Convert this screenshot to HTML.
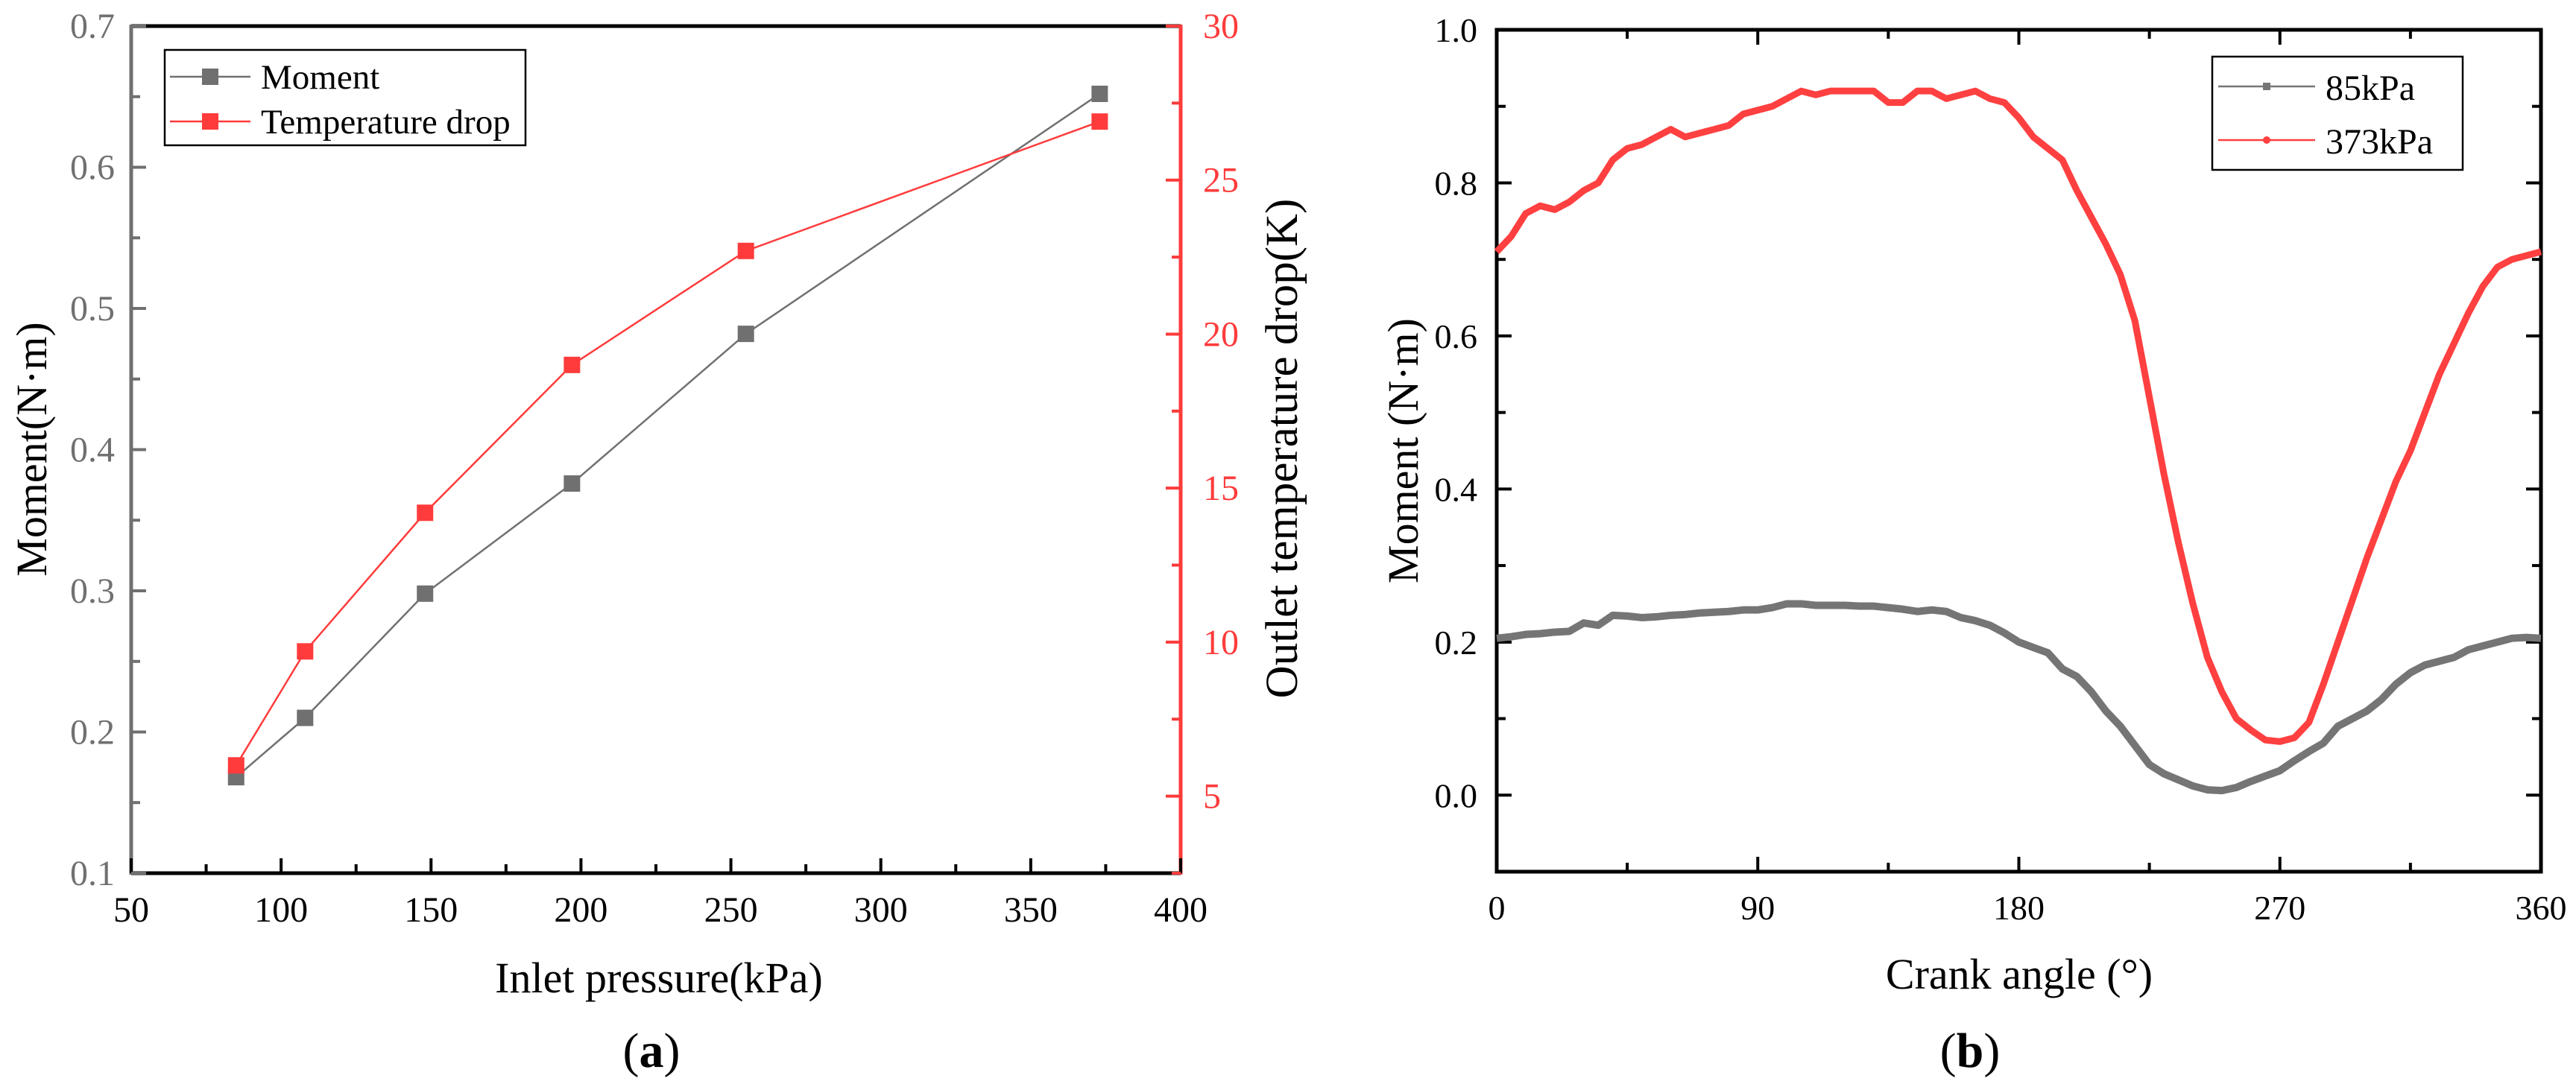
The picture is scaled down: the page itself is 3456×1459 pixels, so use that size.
<!DOCTYPE html>
<html><head><meta charset="utf-8">
<style>
html,body{margin:0;padding:0;background:#fff;}
svg{display:block;font-family:"Liberation Serif",serif;}
svg text{font-family:"Liberation Serif",serif;}
</style></head>
<body>
<svg id="chart" width="3456" height="1459" viewBox="0 0 3456 1459" xmlns="http://www.w3.org/2000/svg">
<g id="pa"></g>
<g id="pb"></g>
</svg>
<script>
// Panel (a) data
const pressures = [85,108,148,197,255,373];
const momentVals = [0.168,0.210,0.298,0.376,0.482,0.652];
const tempDropVals = [6.0,9.7,14.2,19.0,22.7,26.9];
const aXTicks = [50,100,150,200,250,300,350,400];
const aYTicks = [0.1,0.2,0.3,0.4,0.5,0.6,0.7];
const aY2Ticks = [5,10,15,20,25,30];
// Panel (b) data (5° steps)
const crankAngles = [];
for (let a = 0; a <= 360; a += 5) crankAngles.push(a);
const moment85 = [0.205,0.207,0.21,0.211,0.213,0.214,0.225,0.222,0.235,0.234,0.232,0.233,0.235,0.236,0.238,0.239,0.24,0.242,0.242,0.245,0.25,0.25,0.248,0.248,0.248,0.247,0.247,0.245,0.243,0.24,0.242,0.24,0.232,0.228,0.222,0.212,0.2,0.193,0.186,0.165,0.155,0.135,0.11,0.09,0.065,0.04,0.028,0.02,0.012,0.007,0.006,0.01,0.018,0.025,0.032,0.045,0.057,0.068,0.09,0.1,0.11,0.125,0.145,0.16,0.17,0.175,0.18,0.19,0.195,0.2,0.205,0.206,0.205];
const moment373 = [0.71,0.73,0.76,0.77,0.765,0.775,0.79,0.80,0.83,0.845,0.85,0.86,0.87,0.86,0.865,0.87,0.875,0.89,0.895,0.90,0.91,0.92,0.915,0.92,0.92,0.92,0.92,0.905,0.905,0.92,0.92,0.91,0.915,0.92,0.91,0.905,0.885,0.86,0.845,0.83,0.79,0.755,0.72,0.68,0.62,0.52,0.42,0.33,0.25,0.18,0.135,0.10,0.085,0.072,0.07,0.075,0.095,0.145,0.2,0.255,0.31,0.36,0.41,0.45,0.5,0.55,0.59,0.63,0.665,0.69,0.70,0.705,0.71];
const bXTicks = [0,90,180,270,360];
const bYTicks = [0.0,0.2,0.4,0.6,0.8,1.0];

const NS = "http://www.w3.org/2000/svg";
function mk(parent, tag, attrs, text){
  const e = document.createElementNS(NS, tag);
  for (const k in attrs) e.setAttribute(k, attrs[k]);
  if (tag === 'text') e.setAttribute('font-family', '"Liberation Serif", serif');
  if (text !== undefined) e.textContent = text;
  parent.appendChild(e);
  return e;
}
const GRAY = "#707070", RED = "#ff3b3b", RED2 = "#ff4040";

// ---------- Panel A ----------
const pa = document.getElementById('pa');
const aL=176, aR=1584, aT=35, aB=1172;
const ax = v => aL + (v-50)/(400-50)*(aR-aL);
const ay = v => aB - (v-0.1)/(0.7-0.1)*(aB-aT);
const ay2 = v => aB - (v-2.5)/(30-2.5)*(aB-aT);

let frame = mk(pa,'line',{x1:aL,y1:aT,x2:aR,y2:aT,stroke:'#000','stroke-width':5});


let xl = mk(pa,'line',{x1:aL,y1:aB,x2:aR,y2:aB,stroke:'#000','stroke-width':5});


let yl = mk(pa,'line',{x1:aL,y1:aT-2,x2:aL,y2:aB+2,stroke:GRAY,'stroke-width':5});


let y2l = mk(pa,'line',{x1:aR,y1:aT-2,x2:aR,y2:aB+2,stroke:RED,'stroke-width':5});



for (let v=50; v<=400; v+=25){
  const major = v%50===0;
  const t = mk(pa,'line',{x1:ax(v),y1:aB,x2:ax(v),y2:aB-(major?20:12),stroke:'#000','stroke-width':4});
  
  
}
aXTicks.forEach(v=>{
  const t = mk(pa,'text',{x:ax(v),y:1237,'font-size':48,'text-anchor':'middle',fill:'#000'},String(v));
  
  
});
for (let i=0;i<=12;i++){
  const v = 0.1+i*0.05;
  const major = i%2===0;
  const t = mk(pa,'line',{x1:aL,y1:ay(v),x2:aL+(major?20:12),y2:ay(v),stroke:GRAY,'stroke-width':4});
  
  
}
aYTicks.forEach(v=>{
  const t = mk(pa,'text',{x:154,y:ay(v)+16,'font-size':48,'text-anchor':'end',fill:GRAY},v.toFixed(1));
  
  
});
for (let v=2.5; v<=30; v+=2.5){
  const major = v%5===0;
  const t = mk(pa,'line',{x1:aR,y1:ay2(v),x2:aR-(major?20:12),y2:ay2(v),stroke:RED,'stroke-width':4});
  
  
}
aY2Ticks.forEach(v=>{
  const t = mk(pa,'text',{x:1614,y:ay2(v)+16,'font-size':48,'text-anchor':'start',fill:RED},String(v));
  
  
});
let t1 = mk(pa,'text',{x:0,y:0,'font-size':58,'text-anchor':'middle',fill:'#000',transform:'translate(62,603) rotate(-90)'},'Moment(N·m)');


let t2 = mk(pa,'text',{x:0,y:0,'font-size':61,'text-anchor':'middle',fill:'#000',transform:'translate(1740,602) rotate(-90)'},'Outlet temperature drop(K)');


let t3 = mk(pa,'text',{x:884,y:1332,'font-size':58,'text-anchor':'middle',fill:'#000'},'Inlet pressure(kPa)');


let t4 = mk(pa,'text',{x:874,y:1432,'font-size':66,'text-anchor':'middle',fill:'#000'});


t4.innerHTML = '(<tspan font-weight="bold">a</tspan>)';

const mPts = pressures.map((p,i)=>ax(p)+','+ay(momentVals[i])).join(' ');
let ml = mk(pa,'polyline',{points:mPts,fill:'none',stroke:GRAY,'stroke-width':2.5});


const tPts = pressures.map((p,i)=>ax(p)+','+ay2(tempDropVals[i])).join(' ');
let tl = mk(pa,'polyline',{points:tPts,fill:'none',stroke:RED,'stroke-width':2.5});


pressures.forEach((p,i)=>{
  const r = mk(pa,'rect',{x:ax(p)-11,y:ay(momentVals[i])-11,width:22,height:22,fill:GRAY});
  
  
  const r2 = mk(pa,'rect',{x:ax(p)-11,y:ay2(tempDropVals[i])-11,width:22,height:22,fill:RED});
  
  
});
// legend A
let lgA = mk(pa,'g',{});


mk(lgA,'rect',{x:221,y:67,width:484,height:128,fill:'#fff',stroke:'#000','stroke-width':2.5});
mk(lgA,'line',{x1:228,y1:103,x2:336,y2:103,stroke:GRAY,'stroke-width':2.5});
mk(lgA,'rect',{x:271,y:92,width:22,height:22,fill:GRAY});
let le1 = mk(lgA,'text',{x:350,y:119,'font-size':47,fill:'#000'},'Moment');


mk(lgA,'line',{x1:228,y1:163,x2:336,y2:163,stroke:RED,'stroke-width':2.5});
mk(lgA,'rect',{x:271,y:152,width:22,height:22,fill:RED});
let le2 = mk(lgA,'text',{x:350,y:179,'font-size':47,fill:'#000'},'Temperature drop');



// ---------- Panel B ----------
const pb = document.getElementById('pb');
const bL=2008, bR=3409, bT=40, bB=1170;
const bx = v => bL + v/360*(bR-bL);
const by = v => bB - (v+0.1)/1.1*(bB-bT);

let fr = mk(pb,'rect',{x:bL,y:bT,width:bR-bL,height:bB-bT,fill:'none',stroke:'#000','stroke-width':5});


for (let v=0; v<=360; v+=45){
  const major = v%90===0;
  const len = major?20:12;
  const t = mk(pb,'line',{x1:bx(v),y1:bB,x2:bx(v),y2:bB-len,stroke:'#000','stroke-width':4});
  
  
  const t2 = mk(pb,'line',{x1:bx(v),y1:bT,x2:bx(v),y2:bT+len,stroke:'#000','stroke-width':4});
  
  
}
bXTicks.forEach(v=>{
  const t = mk(pb,'text',{x:bx(v),y:1234,'font-size':46,'text-anchor':'middle',fill:'#000'},String(v));
  
  
});
for (let i=0;i<=10;i++){
  const v = i*0.1;
  const len = i%2===0?20:12;
  const t = mk(pb,'line',{x1:bL,y1:by(v),x2:bL+len,y2:by(v),stroke:'#000','stroke-width':4});
  
  
  const t2 = mk(pb,'line',{x1:bR,y1:by(v),x2:bR-len,y2:by(v),stroke:'#000','stroke-width':4});
  
  
}
bYTicks.forEach(v=>{
  const t = mk(pb,'text',{x:1982,y:by(v)+16,'font-size':46,'text-anchor':'end',fill:'#000'},v.toFixed(1));
  
  
});
let b1 = mk(pb,'text',{x:0,y:0,'font-size':58,'text-anchor':'middle',fill:'#000',transform:'translate(1902,605) rotate(-90)'},'Moment (N·m)');


let b2 = mk(pb,'text',{x:2709,y:1327,'font-size':58,'text-anchor':'middle',fill:'#000'},'Crank angle (°)');


let b3 = mk(pb,'text',{x:2643,y:1432,'font-size':66,'text-anchor':'middle',fill:'#000'});


b3.innerHTML = '(<tspan font-weight="bold">b</tspan>)';

let g85 = mk(pb,'polyline',{points:crankAngles.map((a,i)=>bx(a)+','+by(moment85[i])).join(' '),fill:'none',stroke:'#757575','stroke-width':10,'stroke-linejoin':'round'});


let g373 = mk(pb,'polyline',{points:crankAngles.map((a,i)=>bx(a)+','+by(moment373[i])).join(' '),fill:'none',stroke:RED2,'stroke-width':9,'stroke-linejoin':'round'});



let lgB = mk(pb,'g',{});


mk(lgB,'rect',{x:2968,y:76,width:336,height:152,fill:'#fff',stroke:'#000','stroke-width':2.5});
mk(lgB,'line',{x1:2976,y1:116,x2:3106,y2:116,stroke:'#757575','stroke-width':2.5});
mk(lgB,'rect',{x:3036,y:111,width:10,height:10,fill:'#757575'});
let lb1 = mk(lgB,'text',{x:3120,y:134,'font-size':48,fill:'#000'},'85kPa');


mk(lgB,'line',{x1:2976,y1:188,x2:3106,y2:188,stroke:RED2,'stroke-width':2.5});
mk(lgB,'circle',{cx:3041,cy:188,r:5,fill:RED2});
let lb2 = mk(lgB,'text',{x:3120,y:206,'font-size':48,fill:'#000'},'373kPa');


</script>
</body></html>
